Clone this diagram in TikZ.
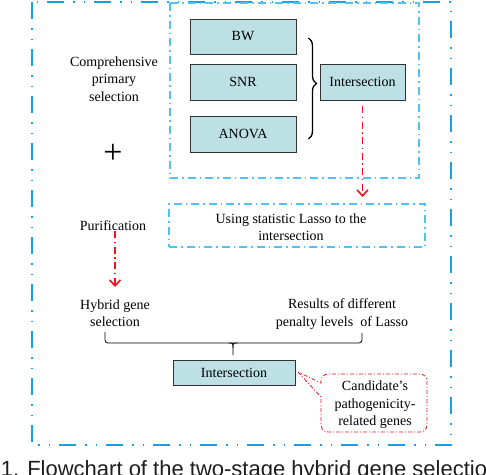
\documentclass[tikz,border=0pt]{standalone}
\usepackage{fontspec}
\setmainfont{Liberation Serif}
\newfontfamily\capfont{Liberation Sans}
\usetikzlibrary{arrows.meta,decorations.pathreplacing,calc}
\definecolor{outerblue}{RGB}{25,160,225}
\definecolor{innerblue}{RGB}{80,195,240}
\definecolor{boxfill}{RGB}{188,224,228}
\definecolor{redarrow}{RGB}{235,20,30}
\definecolor{captext}{RGB}{30,30,30}
\begin{document}
\begin{tikzpicture}[x=1pt,y=-1pt,
  txt/.style={font=\fontsize{14}{17.5}\selectfont, align=center, inner sep=0pt},
  gbox/.style={draw=black!80, line width=0.9pt, fill=boxfill, inner sep=0pt,
    font=\fontsize{14}{17.5}\selectfont},
  outerframe/.style={draw=outerblue, line width=2.5pt,
    dash pattern=on 17pt off 9pt on 1.5pt off 9pt on 1.5pt off 9pt},
  innerframe/.style={draw=innerblue, line width=1.2pt,
    dash pattern=on 8pt off 4pt on 1.5pt off 4pt},
  redflow/.style={draw=redarrow, line width=1.6pt,
    dash pattern=on 7pt off 3.5pt on 1.5pt off 3.5pt,
    -{Straight Barb[length=6pt,width=11pt,line width=1.6pt]}},
  calloutline/.style={draw=redarrow, line width=0.8pt,
    dash pattern=on 4pt off 2pt on 1pt off 2pt},
  bracket/.style={draw=black, line width=0.8pt}
]
\useasboundingbox (0,0) rectangle (486,474);

% frames
\draw[outerframe] (32,2) rectangle (451,445);
\draw[innerframe] (170,3) rectangle (419,178);
\node[innerframe, minimum width=256pt, minimum height=43pt, inner sep=0pt] (lassobox) at (297,225.5) {};

% method boxes
\node[gbox, minimum width=106pt, minimum height=35pt] (bw) at (243,36.5) {BW};
\node[gbox, minimum width=106pt, minimum height=36pt] (snr) at (243,82) {SNR};
\node[gbox, minimum width=106pt, minimum height=36pt] (anova) at (243,134) {ANOVA};
\node[gbox, minimum width=85pt, minimum height=36pt] (int1) at (362.5,82) {Intersection};

% brace
\draw[decorate, decoration={brace, amplitude=8pt, aspect=0.45}, line width=1.3pt]
  ($(bw.east)+(12,1.5)$) -- ($(anova.east)+(12,5)$);

% left texts
\node[txt] (comp) at (114,79) {Comprehensive\\primary\\selection};
\node[font=\fontsize{34}{34}\selectfont, inner sep=0pt] (plus) at (113,154) {+};
\node[txt] (pur) at (113,226) {Purification};
\node[txt] (lasso) at (291,227) {Using statistic Lasso to the\\intersection};
\node[txt] (hyb) at (115,313) {Hybrid gene\\selection};
\node[txt] (res) at (342,314) {Results of different\\penalty levels\ \ of Lasso};

% red arrows
\draw[redflow] ($(int1.south)+(0,6)$) -- (int1.south |- 0,197);
\draw[redflow] (115,231) -- (115,287);

% bottom bracket
\coordinate (bl) at (105,332);
\coordinate (br) at (362,333);
\draw[bracket, rounded corners=3pt] (bl) -- (105,343) -- (362,343) -- (br);
\draw[bracket] (228.5,343) .. controls (233,343) .. (233,348) -- (233,355);
\draw[bracket] (237.5,343) .. controls (233,343) .. (233,348);

\node[gbox, minimum width=122pt, minimum height=25pt] (int2) at (234,372.5) {Intersection};

% callout
\draw[calloutline] (298,372) -- (321,397)
  {[rounded corners=7pt] -- (321,432) -- (427,432) -- (427,374) -- (321,374)} -- (321,383) -- cycle;
\node[txt] (cand) at (375,405) {Candidate's\\pathogenicity-\\related genes};

% caption (cut off by the page)
\node[font=\capfont\fontsize{22}{22}\selectfont, text=captext, anchor=base west, inner sep=0pt]
  (cap) at (0.6,476) {1. Flowchart of the two-stage hybrid gene selection};
\end{tikzpicture}
\end{document}
